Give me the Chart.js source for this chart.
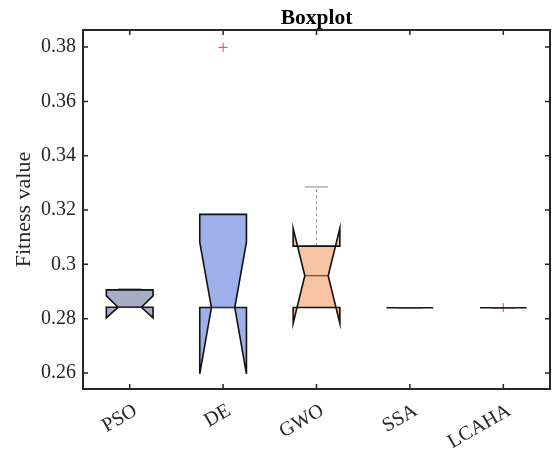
<!DOCTYPE html>
<html>
<head>
<meta charset="utf-8">
<script src="https://cdn.jsdelivr.net/npm/chart.js@4.4.0/dist/chart.umd.min.js"></script>
<style>
  html, body { margin: 0; padding: 0; background: #fff; }
</style>
</head>
<body>
<canvas id="boxChart" width="560" height="450"></canvas>
<script>
const methods = ['PSO', 'DE', 'GWO', 'SSA', 'LCAHA'];
const q1 = [0.2842, 0.2841, 0.2841, 0.2840, 0.2840];
const medians = [0.2842, 0.2841, 0.2958, 0.2840, 0.2840];
const q3 = [0.2906, 0.3184, 0.3067, 0.2840, 0.2840];
const whiskerLow = [0.2842, 0.2841, 0.2841, 0.2840, 0.2840];
const whiskerHigh = [0.2910, 0.3184, 0.3285, 0.2840, 0.2840];
const notchLow = [0.2803, 0.2597, 0.2783, 0.2840, 0.2840];
const notchHigh = [0.2884, 0.3082, 0.3133, 0.2840, 0.2840];
const outlierX = [2, 5];
const outlierY = [0.3799, 0.2841];
const yTicks = [0.26, 0.28, 0.3, 0.32, 0.34, 0.36, 0.38];

const boxFill = ['#a9acc6', '#9db0ea', '#f6c4a2', '#ffffff', '#ffffff'];
const axisColor = '#262626';
const serif = 'Liberation Serif, Times New Roman, serif';

// Kerbboxen zeichnen (ueber Skalen)
const notchBoxPlugin = {
    id: 'notchBox',
    afterDatasetsDraw(chart) {
        const ctx = chart.ctx;
        const xs = chart.scales.x, ys = chart.scales.y;
        const half = 0.25, capHalf = 0.125;
        const P = (a, b) => [xs.getPixelForValue(a), ys.getPixelForValue(b)];
        methods.forEach((m, i) => {
            const c = i + 1;
            ctx.save();
            // Whisker
            ctx.strokeStyle = '#8a8a8a';
            ctx.lineWidth = 1;
            [[q3[i], whiskerHigh[i]], [q1[i], whiskerLow[i]]].forEach(([a, b]) => {
                if (Math.abs(a - b) < 1e-9) return;
                ctx.setLineDash([3, 3]);
                ctx.beginPath();
                ctx.moveTo(...P(c, a));
                ctx.lineTo(...P(c, b));
                ctx.stroke();
            });
            ctx.setLineDash([]);
            [whiskerHigh[i], whiskerLow[i]].forEach(v => {
                ctx.beginPath();
                ctx.moveTo(...P(c - capHalf, v));
                ctx.lineTo(...P(c + capHalf, v));
                ctx.stroke();
            });
            // Box mit Kerbe
            const pts = [
                [c - half, q3[i]], [c - half, notchHigh[i]], [c - half / 2, medians[i]],
                [c - half, notchLow[i]], [c - half, q1[i]], [c + half, q1[i]],
                [c + half, notchLow[i]], [c + half / 2, medians[i]], [c + half, notchHigh[i]],
                [c + half, q3[i]]
            ];
            ctx.beginPath();
            pts.forEach((p, k) => {
                const xy = P(p[0], p[1]);
                if (k === 0) ctx.moveTo(...xy); else ctx.lineTo(...xy);
            });
            ctx.closePath();
            ctx.fillStyle = boxFill[i];
            ctx.fill();
            ctx.strokeStyle = '#111';
            ctx.lineWidth = 1.6;
            ctx.lineJoin = 'miter';
            ctx.stroke();
            // Median
            ctx.strokeStyle = '#333';
            ctx.lineWidth = 1;
            ctx.beginPath();
            ctx.moveTo(...P(c - half / 2, medians[i]));
            ctx.lineTo(...P(c + half / 2, medians[i]));
            ctx.stroke();
            ctx.restore();
        });
    }
};

// Rahmen und Ticks nach innen (wie MATLAB)
const framePlugin = {
    id: 'frame',
    afterDraw(chart) {
        const ctx = chart.ctx;
        const a = chart.chartArea;
        const tl = 5;
        ctx.save();
        ctx.strokeStyle = axisColor;
        ctx.lineWidth = 1.5;
        chart.scales.y.ticks.forEach(t => {
            const py = chart.scales.y.getPixelForValue(t.value);
            ctx.beginPath();
            ctx.moveTo(a.left, py); ctx.lineTo(a.left + tl, py);
            ctx.moveTo(a.right, py); ctx.lineTo(a.right - tl, py);
            ctx.stroke();
        });
        chart.scales.x.ticks.forEach(t => {
            const px = chart.scales.x.getPixelForValue(t.value);
            ctx.beginPath();
            ctx.moveTo(px, a.bottom); ctx.lineTo(px, a.bottom - tl);
            ctx.moveTo(px, a.top); ctx.lineTo(px, a.top + tl);
            ctx.stroke();
        });
        ctx.lineWidth = 2;
        ctx.strokeRect(a.left, a.top, a.right - a.left, a.bottom - a.top);
        ctx.restore();
    }
};

function createBoxChart() {
    const ctx = document.getElementById('boxChart').getContext('2d');
    new Chart(ctx, {
        type: 'scatter',
        data: {
            datasets: [{
                label: 'Ausreisser',
                data: outlierX.map((x, i) => ({ x: x, y: outlierY[i] })),
                pointStyle: 'cross',
                pointRadius: 4.5,
                borderColor: '#ff3b3b',
                backgroundColor: '#ff3b3b',
                borderWidth: 1
            }]
        },
        options: {
            responsive: false,
            animation: false,
            layout: { padding: { top: 0, right: 10, bottom: 0, left: 0 } },
            plugins: {
                legend: { display: false },
                tooltip: { enabled: false },
                title: { display: false }
            },
            scales: {
                x: {
                    type: 'linear',
                    min: 0.5,
                    max: 5.5,
                    grid: { display: false, drawTicks: false },
                    border: { display: false },
                    afterBuildTicks: s => { s.ticks = methods.map((m, i) => ({ value: i + 1 })); },
                    ticks: {
                        autoSkip: false,
                        minRotation: 30,
                        maxRotation: 30,
                        padding: 10,
                        labelOffset: 6,
                        color: axisColor,
                        font: { family: serif, size: 20 },
                        callback: (v, i) => methods[i]
                    },
                    afterFit: s => { s.height = 61; }
                },
                x2: {
                    type: 'linear',
                    position: 'top',
                    min: 0.5,
                    max: 5.5,
                    grid: { display: false, drawTicks: false },
                    border: { display: false },
                    ticks: { display: false },
                    title: {
                        display: true,
                        text: 'Boxplot',
                        color: '#000',
                        font: { family: serif, size: 21.5, weight: 'bold' },
                        padding: { top: 6, bottom: 0 }
                    },
                    afterFit: s => { s.height = 30; }
                },
                y: {
                    min: 0.2541,
                    max: 0.3863,
                    grid: { display: false, drawTicks: false },
                    border: { display: false },
                    afterBuildTicks: s => { s.ticks = yTicks.map(v => ({ value: v })); },
                    ticks: {
                        padding: 7,
                        color: axisColor,
                        font: { family: serif, size: 20 },
                        callback: v => String(+v.toFixed(2))
                    },
                    title: {
                        display: true,
                        text: 'Fitness value',
                        color: axisColor,
                        font: { family: serif, size: 22 },
                        padding: { top: 11, bottom: 0 }
                    },
                    afterFit: s => { s.width = 83; }
                }
            }
        },
        plugins: [notchBoxPlugin, framePlugin]
    });
}

createBoxChart();
</script>
</body>
</html>
